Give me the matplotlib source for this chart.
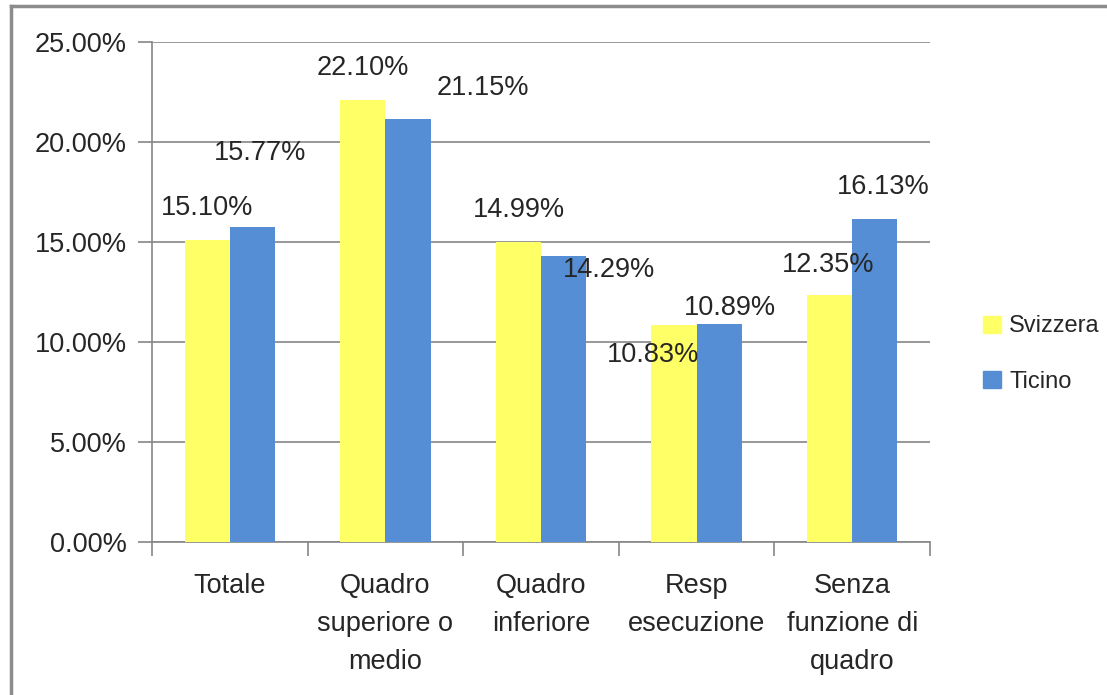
import matplotlib
matplotlib.use("Agg")
import matplotlib.pyplot as plt
from matplotlib.lines import Line2D
from matplotlib.ticker import FuncFormatter
import numpy as np

categories = [
    "Totale",
    "Quadro\nsuperiore o\nmedio",
    "Quadro\ninferiore",
    "Resp\nesecuzione",
    "Senza\nfunzione di\nquadro",
]
svizzera = [0.1510, 0.2210, 0.1499, 0.1083, 0.1235]
ticino = [0.1577, 0.2115, 0.1429, 0.1089, 0.1613]
series_names = ["Svizzera", "Ticino"]

# manual label offsets in pixels (dx, dy), as placed in the original
svizzera_offsets = [(0, 32), (0, 32), (0, 32), (-21, -30), (-2, 30)]
ticino_offsets = [(8, 74), (75, 31), (45, -14), (11, 16), (8, 32)]

YELLOW = "#FFFF66"
BLUE = "#558ED5"
GRID = "#868686"
TEXT = "#262626"
FONT = "Liberation Sans"

plt.rcParams["font.family"] = [FONT, "DejaVu Sans"]

fig = plt.figure(figsize=(11.07, 6.95), dpi=100)
ax = fig.add_axes([152 / 1107, 153 / 695, 778 / 1107, 500 / 695])

x = np.arange(len(categories))
width = 0.29
bars_s = ax.bar(x - width / 2, svizzera, width, color=YELLOW, zorder=3)
bars_t = ax.bar(x + width / 2, ticino, width, color=BLUE, zorder=3)

px = 72 / 100  # points per pixel
for bars, vals, offs in ((bars_s, svizzera, svizzera_offsets),
                         (bars_t, ticino, ticino_offsets)):
    for b, v, (dx, dy) in zip(bars, vals, offs):
        ax.annotate(f"{v * 100:.2f}%",
                    (b.get_x() + b.get_width() / 2, v),
                    xytext=(dx * px, dy * px), textcoords="offset points",
                    ha="center", va="center", fontsize=19.5, color=TEXT,
                    zorder=5)

ax.set_xlim(-0.5, len(categories) - 0.5)
ax.set_ylim(0, 0.25)
ax.set_yticks(np.arange(0, 0.2501, 0.05))
ax.yaxis.set_major_formatter(FuncFormatter(lambda v, _: f"{v * 100:.2f}%"))
ax.grid(axis="y", color=GRID, linewidth=1.2, zorder=0)
ax.tick_params(axis="y", length=10, width=1.2, color=GRID, labelsize=19.5,
               labelcolor=TEXT, pad=8)

ax.set_xticks(np.arange(-0.5, len(categories)), minor=False)
ax.set_xticklabels([])
ax.set_xticks(x, minor=True)
ax.set_xticklabels(categories, minor=True, fontsize=19.5, color=TEXT,
                   linespacing=1.62, va="top")
ax.tick_params(axis="x", which="major", length=10, width=1.2, color=GRID)
ax.tick_params(axis="x", which="minor", length=0, pad=22)

for side in ("top", "right"):
    ax.spines[side].set_visible(False)
for side in ("left", "bottom"):
    ax.spines[side].set_color(GRID)
    ax.spines[side].set_linewidth(1.2)

handles = [plt.Rectangle((0, 0), 1, 1, color=c) for c in (YELLOW, BLUE)]
leg = fig.legend(handles, series_names, loc="center left",
                 bbox_to_anchor=(962 / 1107, 1 - 354 / 695), frameon=False,
                 fontsize=17, handlelength=0.75, handleheight=0.75,
                 handletextpad=0.35, labelspacing=1.4)
for t in leg.get_texts():
    t.set_color(TEXT)

# chart area border (top and left edges visible)
fig.add_artist(Line2D([11 / 1107, 11 / 1107], [0, 1 - 6 / 695],
                      color="#8C8C8C", linewidth=2.5, transform=fig.transFigure))
fig.add_artist(Line2D([11 / 1107, 1], [1 - 6 / 695, 1 - 6 / 695],
                      color="#8C8C8C", linewidth=2.5, transform=fig.transFigure))

fig.savefig("out.png", dpi=100)
